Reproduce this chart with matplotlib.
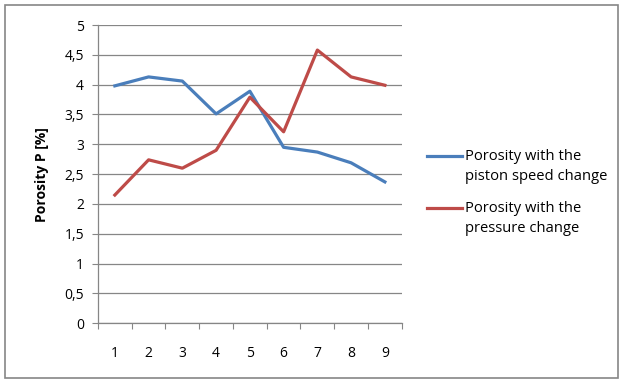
import matplotlib.pyplot as plt
from matplotlib.patches import Rectangle
from matplotlib.lines import Line2D
import numpy as np

plt.rcParams['font.family'] = ['Open Sans', 'DejaVu Sans']

samples = [1, 2, 3, 4, 5, 6, 7, 8, 9]
piston_speed = [3.98, 4.13, 4.06, 3.51, 3.89, 2.95, 2.87, 2.69, 2.37]
pressure = [2.15, 2.74, 2.60, 2.90, 3.79, 3.21, 4.58, 4.13, 3.99]
series_labels = ["Porosity with the\npiston speed change", "Porosity with the\npressure change"]
y_ticks = [0, 0.5, 1, 1.5, 2, 2.5, 3, 3.5, 4, 4.5, 5]
y_labels = ["0", "0,5", "1", "1,5", "2", "2,5", "3", "3,5", "4", "4,5", "5"]

grey = "#868686"
W, H = 620, 379

fig = plt.figure(figsize=(6.2, 3.79), dpi=100)
fig.patches.append(Rectangle((0.008, 0.003), 0.988, 0.984, transform=fig.transFigure,
                             fill=False, edgecolor=grey, linewidth=1.2))

ax = fig.add_axes([0.158, 0.147, 0.490, 0.787])
l1, = ax.plot(samples, piston_speed, color="#4A7EBB", lw=2.3)
l2, = ax.plot(samples, pressure, color="#BE4B48", lw=2.3)

ax.set_ylim(0, 5)
ax.set_yticks(y_ticks)
ax.set_yticklabels(y_labels, fontsize=10)
ax.yaxis.grid(True, color=grey, lw=0.9)
ax.set_axisbelow(True)

ax.set_xlim(0.5, 9.5)
ax.set_xticks(np.arange(0.5, 10, 1))
ax.set_xticklabels([])
ax.set_xticks(samples, minor=True)
ax.set_xticklabels([str(s) for s in samples], minor=True, fontsize=10)
ax.tick_params(axis="x", which="minor", length=0, pad=16)
ax.tick_params(axis="x", which="major", length=4, color=grey, direction="out")
ax.tick_params(axis="y", length=4, color=grey, pad=6)

for side in ["top", "right"]:
    ax.spines[side].set_visible(False)
for side in ["left", "bottom"]:
    ax.spines[side].set_color(grey)
    ax.spines[side].set_linewidth(0.9)

ax.set_ylabel("Porosity P [%]", fontsize=10, fontweight="bold", labelpad=11)

# legend drawn by hand: key line level with the first text line
for line, label, ypix in [(l1, series_labels[0], 156), (l2, series_labels[1], 208)]:
    y = 1 - ypix / H
    fig.add_artist(Line2D([427 / W, 462 / W], [y, y], transform=fig.transFigure,
                          color=line.get_color(), lw=2.3))
    fig.text(465 / W, 1 - (ypix - 7) / H, label, fontsize=10.6, va="top", ha="left",
             linespacing=1.45)

fig.savefig("out.png", dpi=100)
